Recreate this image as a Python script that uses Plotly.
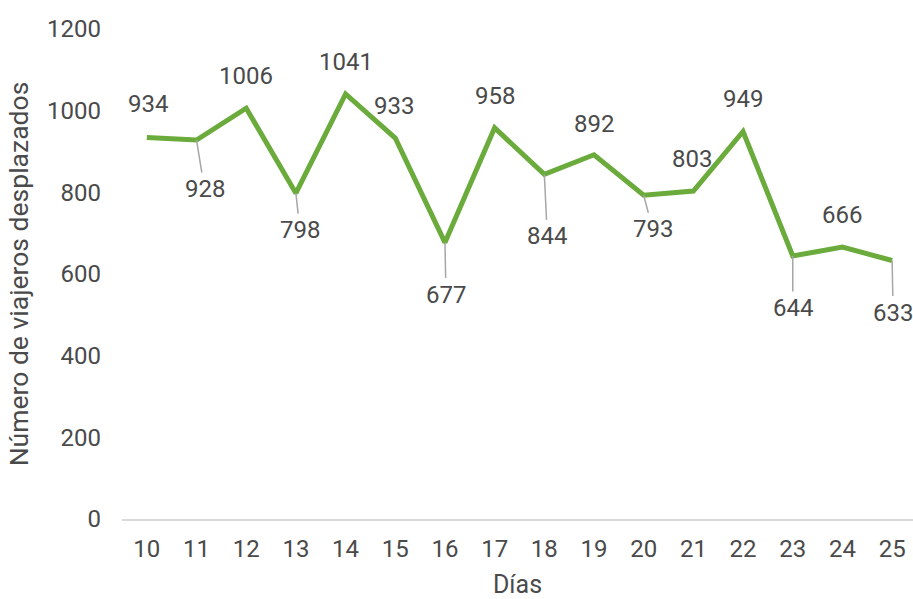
import plotly.graph_objects as go

# Daily count of displaced travellers
dias = [10, 11, 12, 13, 14, 15, 16, 17, 18, 19, 20, 21, 22, 23, 24, 25]
viajeros = [934, 928, 1006, 798, 1041, 933, 677, 958, 844, 892, 793, 803, 949, 644, 666, 633]

# Label placement per point: (dx, dy) offset in px, and whether a leader line is drawn
label_offsets = [(1, -34), (8, 49), (0, -32), (4, 37), (0, -32), (-1, -32), (1, 52), (0, -32),
                 (3, 62), (0, -31), (9, 34), (-1, -32), (0, -32), (0, 52), (0, -32), (1, 52)]
leader = [False, True, False, True, False, False, True, False,
          True, False, True, False, False, True, False, True]

TEXT = "#4A4A4A"
FONT = "Roboto"
SIZE = 24

fig = go.Figure()
fig.add_trace(go.Scatter(
    x=dias, y=viajeros, mode="lines",
    line=dict(color="#6AAB3C", width=5),
    hoverinfo="x+y", showlegend=False,
))

annotations = []
for d, v, (dx, dy), ll in zip(dias, viajeros, label_offsets, leader):
    if ll:
        annotations.append(dict(
            x=d, y=v, xref="x", yref="y", text=str(v),
            showarrow=True, arrowhead=0, arrowwidth=1.5, arrowcolor="#A6A6A6",
            ax=dx, ay=dy, borderpad=2,
            font=dict(family=FONT, size=SIZE, color=TEXT),
        ))
    else:
        annotations.append(dict(
            x=d, y=v, xref="x", yref="y", text=str(v),
            showarrow=False, xshift=dx, yshift=-dy,
            font=dict(family=FONT, size=SIZE, color=TEXT),
        ))

fig.update_layout(
    width=913, height=599,
    margin=dict(l=122, r=0, t=29, b=80),
    paper_bgcolor="white", plot_bgcolor="white",
    font=dict(family=FONT, color=TEXT, size=SIZE),
    annotations=annotations,
    xaxis=dict(
        range=[9.5, 25.42], tickmode="array", tickvals=dias,
        ticktext=[str(d) for d in dias],
        showgrid=False, zeroline=False,
        showline=True, linecolor="#D9D9D9", linewidth=2,
        ticks="", ticklabelstandoff=7,
        tickfont=dict(family=FONT, size=SIZE, color=TEXT),
        title=dict(text="Días", font=dict(family=FONT, size=25, color=TEXT), standoff=15),
    ),
    yaxis=dict(
        range=[0, 1200], tickmode="array", tickvals=[0, 200, 400, 600, 800, 1000, 1200],
        showgrid=False, zeroline=False, showline=False,
        ticks="", ticklabelstandoff=20,
        tickfont=dict(family=FONT, size=SIZE, color=TEXT),
        title=dict(text="Número de viajeros desplazados",
                   font=dict(family=FONT, size=26.5, color=TEXT), standoff=10),
    ),
)

fig.write_html("out.html")
